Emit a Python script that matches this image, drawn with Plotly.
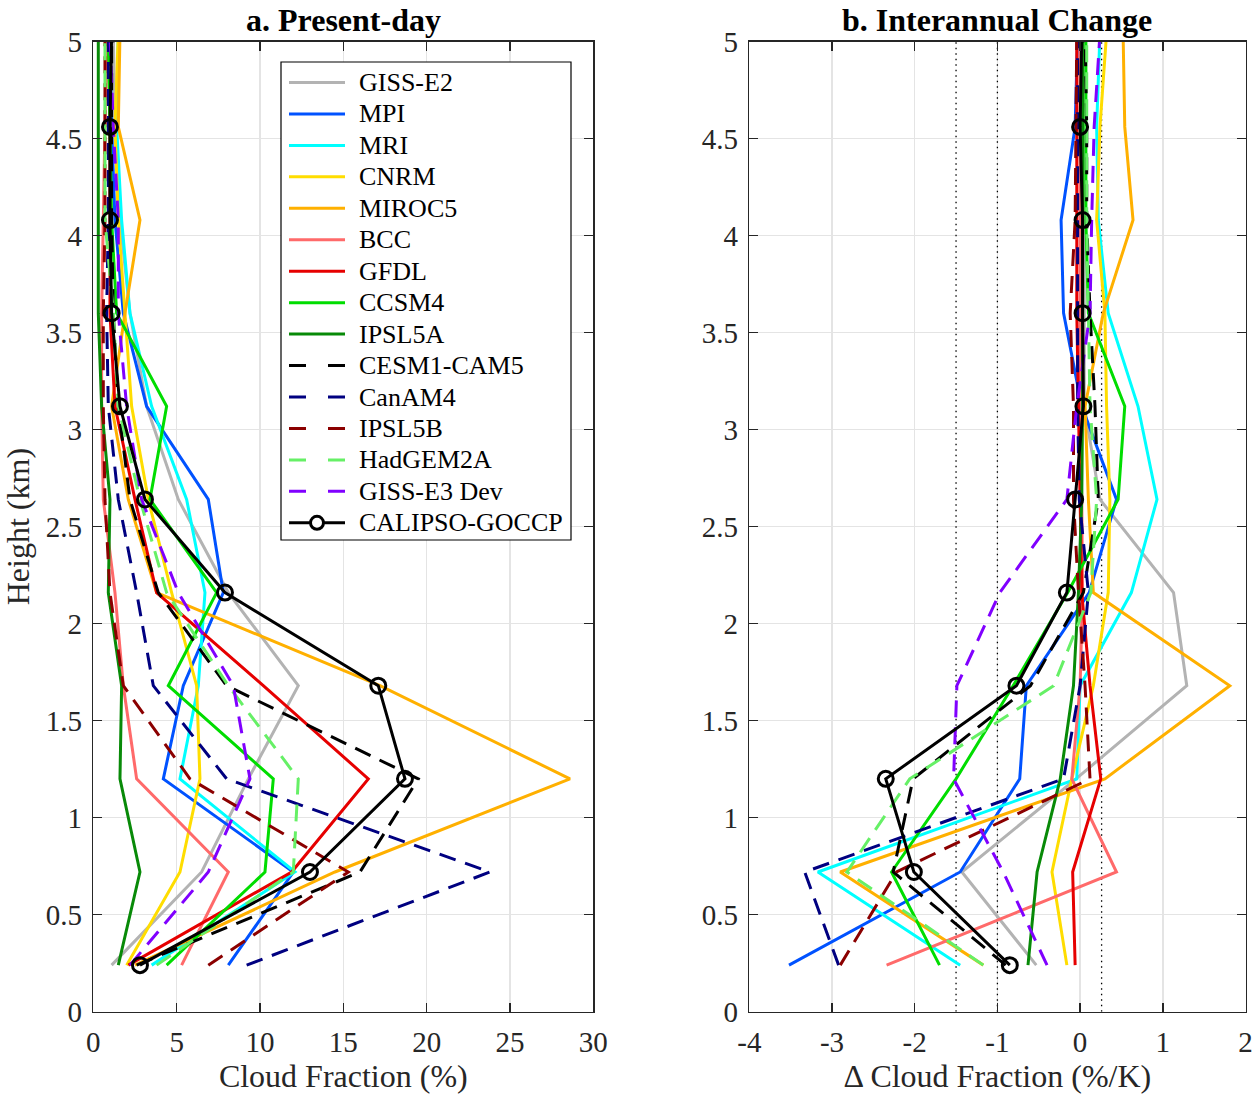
import plotly.graph_objects as go

# ---------------- data ----------------
heights = [0.24, 0.72, 1.20, 1.68, 2.16, 2.64, 3.12, 3.60, 4.08, 4.56, 5.04]

models = ["GISS-E2", "MPI", "MRI", "CNRM", "MIROC5", "BCC", "GFDL", "CCSM4", "IPSL5A",
          "CESM1-CAM5", "CanAM4", "IPSL5B", "HadGEM2A", "GISS-E3 Dev", "CALIPSO-GOCCP"]

# Present-day cloud fraction (%)
present_giss_e2 = [1.1, 6.5, 9.3, 12.3, 8.1, 5.1, 3.2, 2.2, 1.6, 1.3, 1.2]
present_mpi     = [8.1, 12.0, 4.2, 5.4, 7.8, 6.9, 3.2, 1.8, 1.3, 1.1, 1.0]
present_mri     = [3.5, 12.1, 5.2, 6.3, 6.7, 5.6, 3.5, 2.2, 1.7, 1.4, 1.5]
present_cnrm    = [2.0, 5.2, 6.4, 6.2, 4.7, 3.3, 2.3, 1.9, 1.5, 1.3, 1.5]
present_miroc5  = [2.5, 14.5, 28.6, 17.2, 3.8, 2.1, 1.1, 1.9, 2.8, 1.5, 1.6]
present_bcc     = [5.3, 8.1, 2.6, 1.8, 1.3, 0.6, 0.5, 0.5, 0.6, 0.7, 0.8]
present_gfdl    = [2.1, 11.9, 16.5, 10.2, 3.8, 2.5, 1.3, 1.0, 1.0, 1.0, 0.9]
present_ccsm4   = [4.4, 10.3, 10.8, 4.5, 7.4, 3.4, 4.4, 1.4, 1.1, 1.0, 0.9]
present_ipsl5a  = [1.5, 2.8, 1.6, 1.7, 0.9, 1.0, 0.5, 0.3, 0.3, 0.3, 0.3]
present_cesm1   = [2.6, 16.0, 19.5, 8.0, 3.9, 2.2, 1.5, 1.2, 1.1, 1.1, 1.1]
present_canam4  = [9.2, 23.8, 8.0, 3.6, 2.6, 1.5, 0.9, 0.8, 0.9, 0.9, 0.9]
present_ipsl5b  = [6.9, 15.3, 5.8, 1.8, 1.0, 0.7, 0.6, 0.6, 0.7, 0.7, 0.7]
present_hadgem  = [3.8, 12.0, 12.3, 8.1, 4.4, 2.8, 1.5, 1.2, 0.7, 0.7, 0.7]
present_giss_e3 = [2.2, 6.9, 9.4, 8.4, 5.1, 2.9, 2.0, 1.5, 1.5, 1.2, 1.0]
present_calipso = [2.8, 13.0, 18.7, 17.1, 7.9, 3.1, 1.6, 1.1, 1.0, 1.0, 1.1]

# Interannual change (%/K)
change_giss_e2 = [-0.53, -1.43, -0.05, 1.29, 1.13, 0.24, 0.05, 0.05, 0.05, 0.05, 0.05]
change_mpi     = [-3.52, -1.45, -0.73, -0.65, 0.11, 0.44, 0.02, -0.20, -0.23, -0.06, -0.03]
change_mri     = [-1.45, -3.17, -0.04, 0.00, 0.62, 0.93, 0.70, 0.34, 0.22, 0.20, 0.24]
change_cnrm    = [-0.16, -0.34, -0.10, 0.16, 0.34, 0.36, 0.32, 0.30, 0.20, 0.24, 0.32]
change_miroc5  = [-1.17, -2.90, 0.30, 1.81, 0.16, 0.10, 0.06, 0.28, 0.64, 0.54, 0.52]
change_bcc     = [-2.34, 0.44, -0.10, 0.00, 0.03, 0.02, 0.00, 0.00, 0.00, 0.00, 0.00]
change_gfdl    = [-0.06, -0.09, 0.25, 0.12, 0.02, 0.00, -0.02, -0.04, -0.04, -0.04, -0.04]
change_ccsm4   = [-1.70, -2.28, -1.50, -0.81, -0.15, 0.46, 0.54, 0.10, 0.07, 0.07, 0.07]
change_ipsl5a  = [-0.63, -0.52, -0.24, -0.08, -0.02, 0.02, 0.03, 0.03, 0.03, 0.03, 0.03]
change_cesm1   = [-0.90, -2.26, -2.02, -0.60, 0.04, 0.22, 0.18, 0.12, 0.08, 0.08, 0.06]
change_canam4  = [-2.92, -3.33, -0.20, 0.00, 0.10, -0.01, -0.03, -0.03, -0.03, -0.03, -0.03]
change_ipsl5b  = [-2.90, -2.22, 0.12, 0.06, -0.02, -0.08, -0.08, -0.12, -0.06, -0.05, -0.04]
change_hadgem  = [-1.17, -2.82, -2.06, -0.32, 0.13, 0.20, 0.12, 0.10, 0.08, 0.08, 0.08]
change_giss_e3 = [-0.40, -0.93, -1.53, -1.49, -0.97, -0.16, -0.04, 0.12, 0.14, 0.17, 0.24]
change_calipso = [-0.85, -2.01, -2.35, -0.77, -0.16, -0.06, 0.04, 0.03, 0.03, 0.00, 0.02]

# reference (dotted) lines in panel b
ref_lines = [-1.5, -1.0, 0.26]

# tick labels
y_ticks = [0, 0.5, 1, 1.5, 2, 2.5, 3, 3.5, 4, 4.5, 5]
y_tick_labels = ["0", "0.5", "1", "1.5", "2", "2.5", "3", "3.5", "4", "4.5", "5"]
x1_ticks = [0, 5, 10, 15, 20, 25, 30]
x1_tick_labels = ["0", "5", "10", "15", "20", "25", "30"]
x2_ticks = [-4, -3, -2, -1, 0, 1, 2]
x2_tick_labels = ["-4", "-3", "-2", "-1", "0", "1", "2"]

# ---------------- styles ----------------
present = [present_giss_e2, present_mpi, present_mri, present_cnrm, present_miroc5, present_bcc,
           present_gfdl, present_ccsm4, present_ipsl5a, present_cesm1, present_canam4,
           present_ipsl5b, present_hadgem, present_giss_e3, present_calipso]
change = [change_giss_e2, change_mpi, change_mri, change_cnrm, change_miroc5, change_bcc,
          change_gfdl, change_ccsm4, change_ipsl5a, change_cesm1, change_canam4,
          change_ipsl5b, change_hadgem, change_giss_e3, change_calipso]

colors = ["#b3b3b3", "#0052ff", "#00ffff", "#ffdd00", "#ffb000", "#ff6a6a", "#e60000",
          "#00dd00", "#088a08", "#000000", "#000080", "#8b0000", "#66f066", "#8000ff", "#000000"]
DASH = "17px,10px"
LEG_DASH = "17px,22px"
is_dashed = [False] * 9 + [True] * 5 + [False]

FONT = "Liberation Serif, Times New Roman, serif"
AX = "#262626"

# the page's default body margin is removed (post_script), so figure pixels = window pixels
W, H = 1254, 1097

def px_x(p):
    return p / W

def px_y(p):
    return 1 - p / H

fig = go.Figure()

# dotted reference lines in panel b (drawn first, beneath the profiles)
for v in ref_lines:
    fig.add_trace(go.Scatter(x=[v, v], y=[0, 5], mode="lines", showlegend=False, hoverinfo="skip",
                             line=dict(color="black", width=1.3, dash="1.5px,4px"),
                             xaxis="x2", yaxis="y2"))

for i, name in enumerate(models):
    is_obs = name == "CALIPSO-GOCCP"
    mode = "lines+markers" if is_obs else "lines"
    marker = dict(symbol="circle-open", size=15, color="black", line=dict(width=3, color="black"))
    dash = DASH if is_dashed[i] else "solid"
    fig.add_trace(go.Scatter(
        x=present[i], y=heights, mode=mode, name=name,
        line=dict(color=colors[i], width=3, dash=dash),
        marker=marker if is_obs else None,
        xaxis="x", yaxis="y", showlegend=False))
    fig.add_trace(go.Scatter(
        x=change[i], y=heights, mode=mode, name=name,
        line=dict(color=colors[i], width=3, dash=dash),
        marker=marker if is_obs else None,
        xaxis="x2", yaxis="y2", showlegend=False))

# ---------------- legend (drawn by hand to match the original's compact layout) ----------------
LEG_LEFT, LEG_RIGHT, LEG_TOP, LEG_BOTTOM = 281, 571, 62, 540
LEG_LINE_X0, LEG_LINE_X1, LEG_TEXT_X = 289, 345, 357
LEG_FIRST_Y, LEG_STEP = 82.5, 31.45

shapes = [dict(type="rect", xref="paper", yref="paper",
               x0=px_x(LEG_LEFT), x1=px_x(LEG_RIGHT), y0=px_y(LEG_BOTTOM), y1=px_y(LEG_TOP),
               fillcolor="white", line=dict(color="black", width=1.2), layer="above")]
annotations = []
for i, name in enumerate(models):
    yc = LEG_FIRST_Y + LEG_STEP * i
    shapes.append(dict(type="line", xref="paper", yref="paper",
                       x0=px_x(LEG_LINE_X0), x1=px_x(LEG_LINE_X1), y0=px_y(yc), y1=px_y(yc),
                       line=dict(color=colors[i], width=3, dash=LEG_DASH if is_dashed[i] else "solid"),
                       layer="above"))
    if name == "CALIPSO-GOCCP":
        cx, r = (LEG_LINE_X0 + LEG_LINE_X1) / 2, 6.5
        shapes.append(dict(type="circle", xref="paper", yref="paper",
                           x0=px_x(cx - r), x1=px_x(cx + r), y0=px_y(yc + r), y1=px_y(yc - r),
                           fillcolor="white", line=dict(color="black", width=3), layer="above"))
    annotations.append(dict(text=name, x=px_x(LEG_TEXT_X), y=px_y(yc), xref="paper", yref="paper",
                            showarrow=False, xanchor="left", yanchor="middle",
                            font=dict(family=FONT, size=26, color="black")))

L_X0, L_X1, R_X0, R_X1 = 93.3, 593.3, 749.3, 1245.5
P_TOP, P_BOTTOM = 41.5, 1011.7

annotations += [
    dict(text="<b>a. Present-day</b>", x=px_x((L_X0 + L_X1) / 2), y=px_y(20),
         xref="paper", yref="paper", showarrow=False, xanchor="center", yanchor="middle",
         font=dict(family=FONT, size=32, color="black")),
    dict(text="<b>b. Interannual Change</b>", x=px_x((R_X0 + R_X1) / 2), y=px_y(20),
         xref="paper", yref="paper", showarrow=False, xanchor="center", yanchor="middle",
         font=dict(family=FONT, size=32, color="black")),
]

axis_common = dict(showline=True, linecolor=AX, linewidth=1.5, mirror="ticks",
                   ticks="inside", ticklen=9, tickwidth=1.5, tickcolor=AX,
                   showgrid=True, gridcolor="#e4e4e4", gridwidth=1.5, zeroline=False,
                   automargin=False, ticklabelstandoff=4,
                   tickfont=dict(family=FONT, size=29, color=AX))
title_font = dict(family=FONT, size=32, color=AX)

ydom = [px_y(P_BOTTOM), px_y(P_TOP)]

fig.update_layout(
    width=W, height=H,
    margin=dict(l=0, r=0, t=0, b=0, autoexpand=False),
    paper_bgcolor="white", plot_bgcolor="white",
    font=dict(family=FONT, color=AX),
    showlegend=False,
    hovermode=False,
    xaxis=dict(domain=[px_x(L_X0), px_x(L_X1)], range=[0, 30], anchor="y",
               tickvals=x1_ticks, ticktext=x1_tick_labels,
               title=dict(text="Cloud Fraction (%)", font=title_font, standoff=6),
               **axis_common),
    yaxis=dict(domain=ydom, range=[0, 5], anchor="x",
               tickvals=y_ticks, ticktext=y_tick_labels,
               title=dict(text="Height (km)", font=title_font, standoff=10),
               **axis_common),
    xaxis2=dict(domain=[px_x(R_X0), px_x(R_X1)], range=[-4, 2], anchor="y2",
                tickvals=x2_ticks, ticktext=x2_tick_labels,
                title=dict(text="Δ Cloud Fraction (%/K)", font=title_font, standoff=6),
                **axis_common),
    yaxis2=dict(domain=ydom, range=[0, 5], anchor="x2",
                tickvals=y_ticks, ticktext=y_tick_labels,
                **axis_common),
    shapes=shapes,
    annotations=annotations,
)

fig.write_html("out.html",
               config={"displayModeBar": False, "staticPlot": True},
               post_script="document.body.style.margin='0';document.body.style.overflow='hidden';")
